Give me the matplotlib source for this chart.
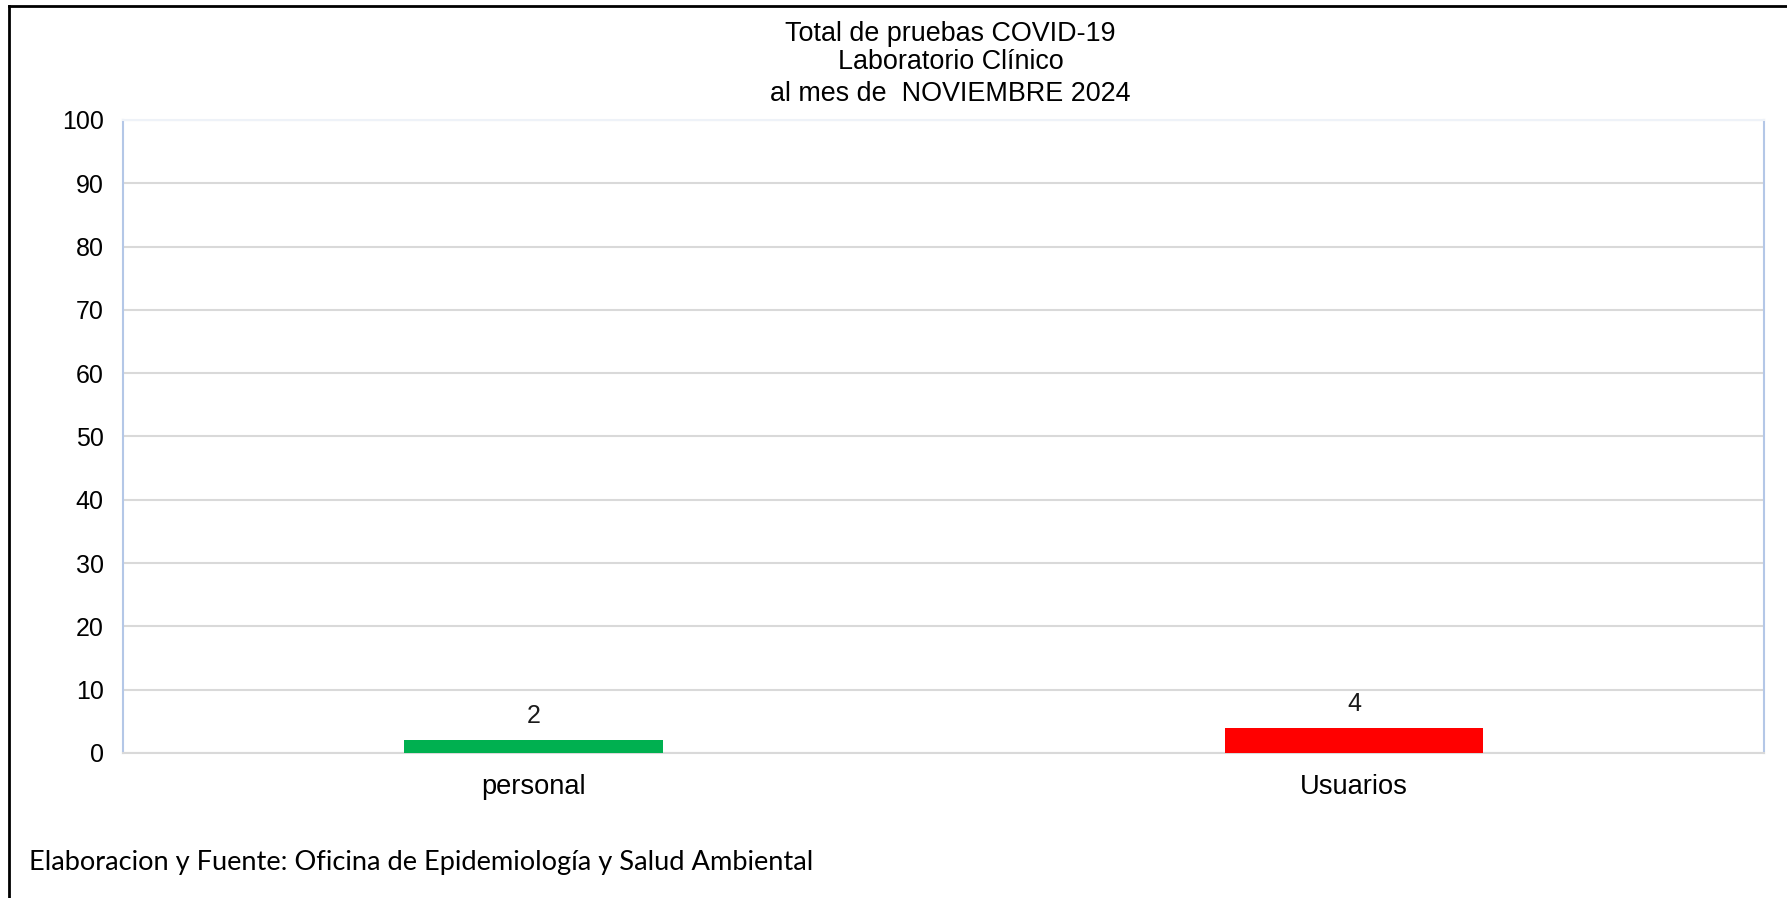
import matplotlib.pyplot as plt
from matplotlib.lines import Line2D

# datos
categorias = ["personal", "Usuarios"]
valores = [2, 4]
colores = ["#00B050", "#FF0000"]
titulo = ["Total de pruebas COVID-19", "Laboratorio Clínico", "al mes de  NOVIEMBRE 2024"]
fuente = "Elaboracion y Fuente: Oficina de Epidemiología y Salud Ambiental"
yticks = list(range(0, 101, 10))

plt.rcParams['font.family'] = ['Liberation Sans', 'DejaVu Sans']

fig = plt.figure(figsize=(17.87, 8.98), dpi=100)
ax = fig.add_axes([0.0689, 0.1615, 0.9872 - 0.0689, 0.8664 - 0.1615])

x = list(range(len(categorias)))
ax.bar(x, valores, width=0.315, color=colores, zorder=3)

for xi, v in zip(x, valores):
    ax.annotate(str(v), (xi, v), xytext=(0, 17.3), textcoords='offset points',
                ha='center', va='center', fontsize=18, color='#1a1a1a')

ax.set_xlim(-0.5, len(categorias) - 0.5)
ax.set_ylim(0, 100)
ax.set_yticks(yticks)
ax.set_xticks(x)
ax.set_xticklabels(categorias, fontsize=19.6)
ax.tick_params(axis='y', length=0, pad=14, labelsize=18)
ax.tick_params(axis='x', length=0, pad=15)
ax.grid(axis='y', color='#D9D9D9', linewidth=1.5, zorder=0)

ax.spines['left'].set_color('#B4C7E7')
ax.spines['right'].set_color('#B4C7E7')
ax.spines['top'].set_color('#EEF2F8')
ax.spines['bottom'].set_color('#D9D9D9')
for s in ax.spines.values():
    s.set_linewidth(1.5)

# titulo en tres lineas
for yy, linea in zip([0.9625, 0.931, 0.8955], titulo):
    fig.text(0.532, yy, linea, ha='center', va='center', fontsize=19.4)

fig.text(0.016, 0.04, fuente, ha='left', va='center', fontsize=19.6,
         family=['Lato', 'DejaVu Sans'])

# marco exterior
fig.add_artist(Line2D([0.005, 1.0], [0.9933, 0.9933], color='black', linewidth=2))
fig.add_artist(Line2D([0.005, 0.005], [0.0, 0.9933], color='black', linewidth=2))

fig.savefig("out.png", dpi=100)
